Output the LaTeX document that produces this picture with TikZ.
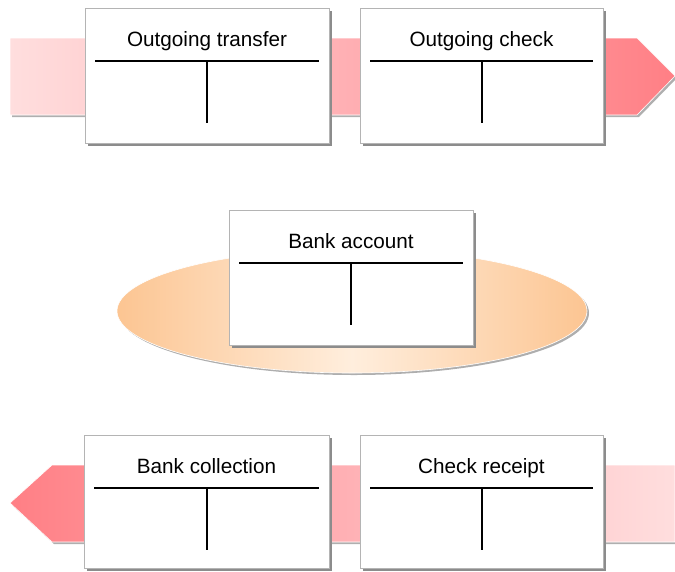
\documentclass[tikz,border=0pt]{standalone}
\usepackage{fontspec}
\setmainfont{Liberation Sans}
\usetikzlibrary{calc,shadows}
\definecolor{pinkL}{HTML}{FFDEDE}
\definecolor{pinkM}{HTML}{FFB0B4}
\definecolor{pinkS}{HTML}{FF7F85}
\definecolor{orng}{HTML}{FCC592}
\definecolor{orngL}{HTML}{FFEEDD}
\definecolor{bordergray}{HTML}{B4B4B4}
\definecolor{shadowgray}{HTML}{8C8C8C}
\begin{document}
\begin{tikzpicture}[x=1pt,y=-1pt,
  tbox/.style={draw=bordergray, line width=0.8pt, fill=white, inner sep=0pt, outer sep=0pt,
    drop shadow={shadow xshift=3pt, shadow yshift=-3pt, fill=shadowgray, opacity=1}},
  ttitle/.style={font=\fontsize{20.7}{24}\selectfont, inner sep=0pt, anchor=base},
  tline/.style={line width=2.6pt},
  vline/.style={line width=2pt},
  bandshadow/.style={fill=shadowgray!70}]
\useasboundingbox (0,0) rectangle (675,571);
% top band
\fill[bandshadow] (12,40) -- (639,40) -- (677,78) -- (639,117) -- (12,117) -- cycle;
\shade[left color=pinkL, right color=pinkS, middle color=pinkM, draw=white, line width=0.6pt]
  (10,38) -- (637,38) -- (675,76) -- (637,115) -- (10,115) -- cycle;
% bottom band
\fill[bandshadow] (54,467) -- (677,467) -- (677,544) -- (54,544) -- (12,505) -- cycle;
\shade[left color=pinkS, right color=pinkL, middle color=pinkM, draw=white, line width=0.6pt]
  (52,465) -- (675,465) -- (675,542) -- (52,542) -- (10,503) -- cycle;
% ellipse
\fill[shadowgray!70] (354,313) ellipse [x radius=235, y radius=62];
\shade[left color=orng, right color=orng, middle color=orngL, draw=white, line width=0.6pt]
  (352,311) ellipse [x radius=235, y radius=62];
\newcommand{\TAcct}[6]{%
  \node[tbox, minimum width=#4pt, minimum height=#5pt] (#1) at (#2,#3) {};
  \node[ttitle] (#1t) at ($(#1.north)+(0,38)$) {#6};
  \coordinate (#1l) at ($(#1.north west)+(10,53)$);
  \coordinate (#1r) at ($(#1.north east)+(-10,53)$);
  \coordinate (#1m) at ($(#1.north)+(0,53)$);
  \coordinate (#1b) at ($(#1.north)+(0,115)$);
  \draw[tline] (#1l) -- (#1r);
  \draw[vline] (#1m) -- (#1b);
}
\TAcct{ot}{207}{75.5}{244}{135}{Outgoing transfer}
\TAcct{oc}{481.5}{75.5}{243}{135}{Outgoing check}
\TAcct{ba}{351}{277.5}{244}{135}{Bank account}
\TAcct{bc}{206.5}{501.5}{245}{133}{Bank collection}
\TAcct{cr}{481.5}{501.5}{243}{133}{Check receipt}
\end{tikzpicture}
\end{document}
